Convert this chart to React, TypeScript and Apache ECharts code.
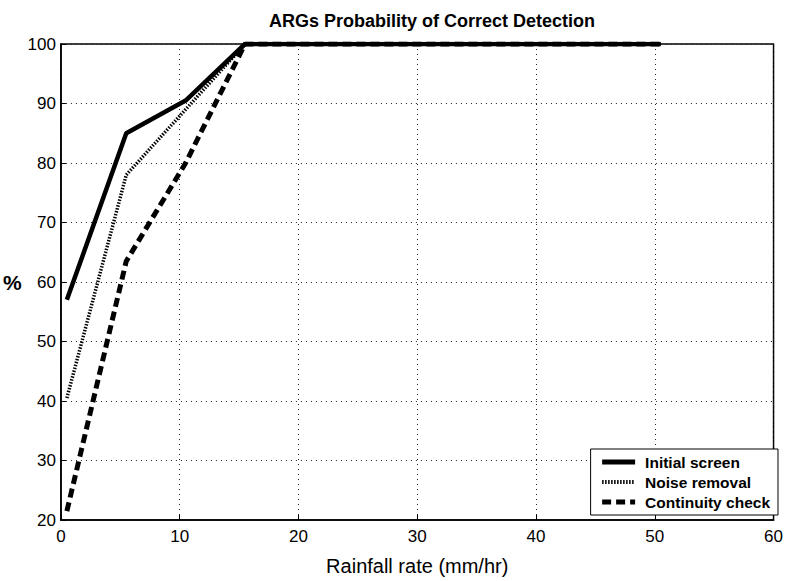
import React, { useEffect, useRef } from "react";
import * as echarts from "echarts";

const rainfall = [0.5, 5.5, 10.5, 15.5, 20.5, 25.5, 30.5, 35.5, 40.5, 45.5, 50.5];
const initialScreen = [57, 85, 90.5, 100, 100, 100, 100, 100, 100, 100, 100];
const noiseRemoval = [40.5, 78, 89, 100, 100, 100, 100, 100, 100, 100, 100];
const continuityCheck = [21.5, 63.5, 80, 100, 100, 100, 100, 100, 100, 100, 100];
const seriesNames = ["Initial screen", "Noise removal", "Continuity check"];

const FONT = "'Liberation Sans', Arial, sans-serif";

export default function App() {
  const ref = useRef<HTMLDivElement>(null);
  useEffect(() => {
    if (!ref.current) return;
    const chart = echarts.init(ref.current, null, { renderer: "svg" });
    const pair = (ys: number[]) => rainfall.map((x, i) => [x, ys[i]]);
    const grid = { show: true, lineStyle: { color: "#222", type: [1, 4] as any, width: 1 } };
    chart.setOption({
      animation: false,
      backgroundColor: "#fff",
      title: {
        text: "ARGs Probability of Correct Detection",
        left: 427,
        textAlign: "center",
        top: 7,
        textStyle: { fontFamily: FONT, fontSize: 18, fontWeight: "bold", color: "#000" },
      },
      grid: { left: 59, right: 11, top: 44, bottom: 58, show: true, borderColor: "#000", borderWidth: 1.5 },
      legend: {
        orient: "vertical",
        right: 8,
        bottom: 66,
        backgroundColor: "#fff",
        borderColor: "#000",
        borderWidth: 1,
        padding: [5, 8, 5, 9],
        itemGap: 4,
        itemWidth: 33,
        itemHeight: 15,
        itemStyle: { opacity: 0 },
        textStyle: { fontFamily: FONT, fontSize: 15.5, fontWeight: "bold", color: "#000", padding: [0, 0, 0, 5] },
        data: [
          { name: seriesNames[0], lineStyle: { width: 5 } },
          { name: seriesNames[1], lineStyle: { width: 4 } },
          { name: seriesNames[2], lineStyle: { width: 5 } },
        ],
      },
      xAxis: {
        type: "value",
        min: 0,
        max: 60,
        interval: 10,
        name: "Rainfall rate (mm/hr)",
        nameLocation: "middle",
        nameGap: 36,
        nameTextStyle: { fontFamily: FONT, fontSize: 20, color: "#000" },
        axisLine: { show: true, lineStyle: { color: "#000", width: 1.5 } },
        axisTick: { show: true, inside: true, length: 5, lineStyle: { color: "#000" } },
        axisLabel: { fontFamily: FONT, fontSize: 17, color: "#000", margin: 8 },
        splitLine: grid,
      },
      yAxis: {
        type: "value",
        min: 20,
        max: 100,
        interval: 10,
        name: "%",
        nameLocation: "middle",
        nameRotate: 0,
        nameGap: 36,
        nameTextStyle: { fontFamily: FONT, fontSize: 21, fontWeight: "bold", color: "#000" },
        axisLine: { show: true, lineStyle: { color: "#000", width: 1.5 } },
        axisTick: { show: true, inside: true, length: 5, lineStyle: { color: "#000" } },
        axisLabel: { fontFamily: FONT, fontSize: 17, color: "#000", margin: 5 },
        splitLine: grid,
      },
      series: [
        {
          name: seriesNames[0],
          type: "line",
          data: pair(initialScreen),
          showSymbol: false,
          symbol: "none",
          lineStyle: { color: "#000", width: 4.5, type: "solid" },
          itemStyle: { color: "#000" },
          z: 3,
        },
        {
          name: seriesNames[1],
          type: "line",
          data: pair(noiseRemoval),
          showSymbol: false,
          symbol: "none",
          lineStyle: { color: "#000", width: 3.5, type: [1.5, 1.5] as any },
          itemStyle: { color: "#000" },
          z: 2,
        },
        {
          name: seriesNames[2],
          type: "line",
          data: pair(continuityCheck),
          showSymbol: false,
          symbol: "none",
          lineStyle: { color: "#000", width: 5, type: [9, 5] as any },
          itemStyle: { color: "#000" },
          z: 2,
        },
      ],
    });
    return () => chart.dispose();
  }, []);
  return <div ref={ref} style={{ width: 786, height: 581, position: "absolute", left: 0, top: 0 }} />;
}
